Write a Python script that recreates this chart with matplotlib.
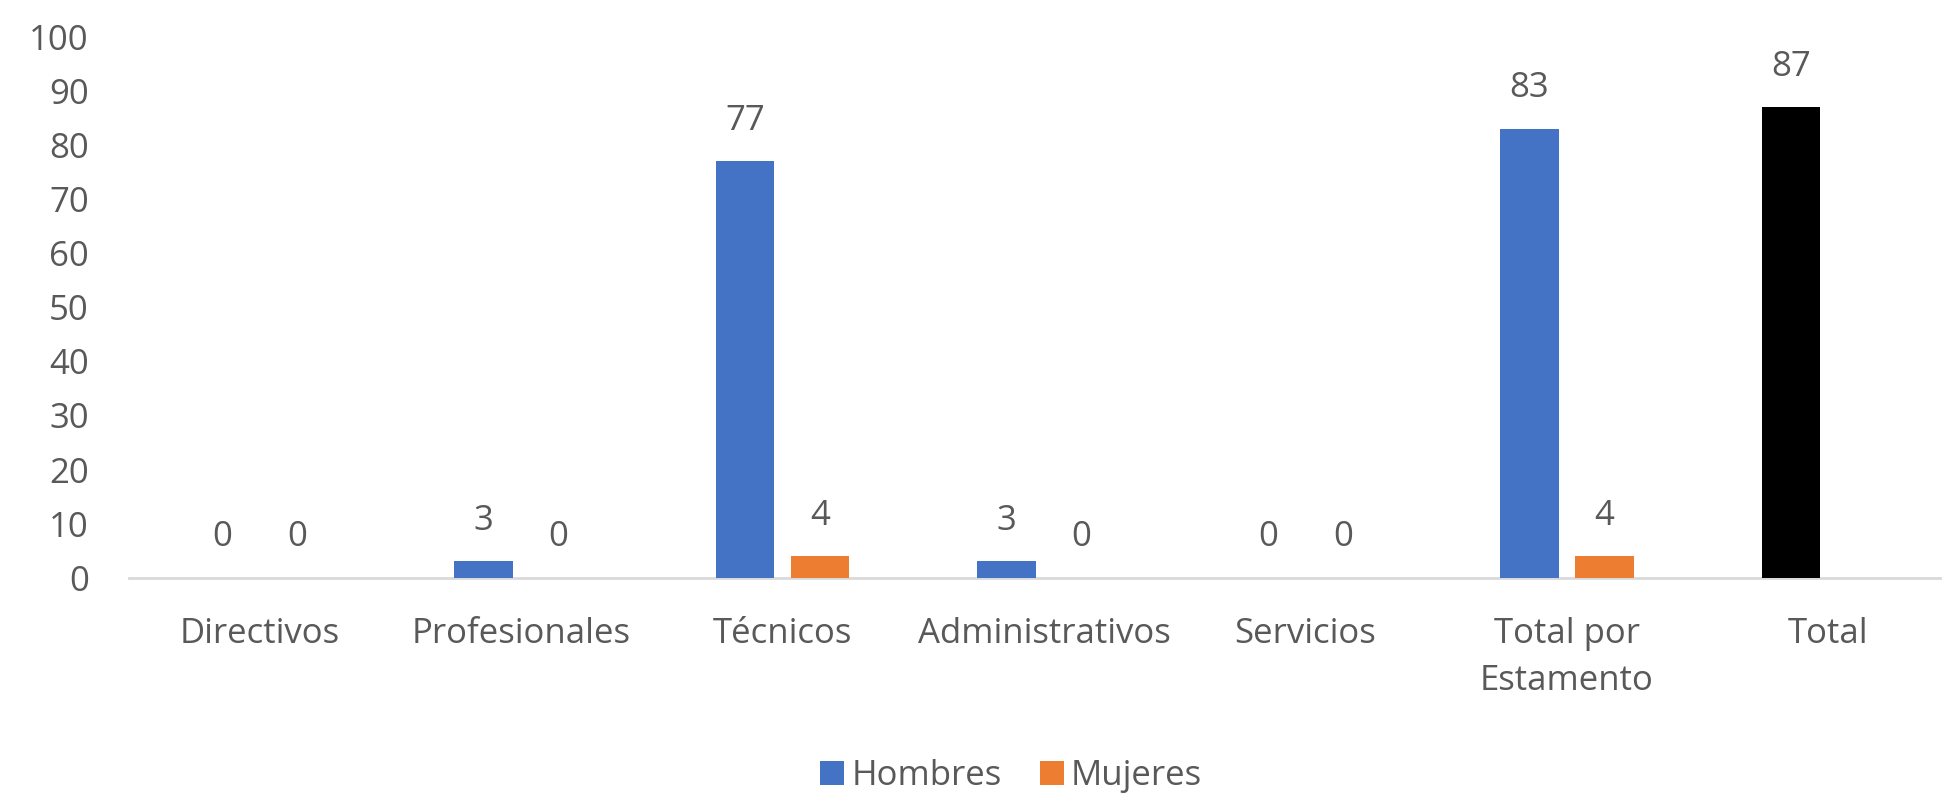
import numpy as np
import matplotlib
matplotlib.use("Agg")
import matplotlib.pyplot as plt
from matplotlib.patches import Patch

categories = ["Directivos", "Profesionales", "Técnicos", "Administrativos",
              "Servicios", "Total por\nEstamento", "Total"]
hombres = [0, 3, 77, 3, 0, 83, 87]
mujeres = [0, 0, 4, 0, 0, 4, np.nan]
series_names = ["Hombres", "Mujeres"]
y_ticks = [0, 10, 20, 30, 40, 50, 60, 70, 80, 90, 100]

BLUE = "#4472C4"
ORANGE = "#ED7D31"
BLACK = "#000000"
TEXT = "#595959"
AXIS = "#D9D9D9"

plt.rcParams["font.family"] = ["Open Sans", "DejaVu Sans"]
FS = 25

W, H = 1942, 796
fig = plt.figure(figsize=(W / 100, H / 100), dpi=100)
left_px, right_px = 128.75, 1942
zero_px, top_px = 577.7, 36.7
ax = fig.add_axes([left_px / W, (H - zero_px) / H,
                   (right_px - left_px) / W, (zero_px - top_px) / H])

cat_px = 261.5
x = np.arange(len(categories))
bw = 58.6 / cat_px
off = 37.5 / cat_px

h_colors = [BLUE] * (len(categories) - 1) + [BLACK]
bars_h = ax.bar(x - off, hombres, width=bw, color=h_colors, zorder=3)
m_vals = np.array(mujeres, dtype=float)
bars_m = ax.bar(x + off, np.nan_to_num(m_vals), width=bw, color=ORANGE, zorder=3)

lab_off = 40.5 * 72 / 100
for xi, v in zip(x - off, hombres):
    ax.annotate(f"{v:g}", (xi, v), xytext=(0, lab_off), textcoords="offset points",
                ha="center", va="center", fontsize=FS, color=TEXT)
for xi, v in zip(x + off, m_vals):
    if np.isnan(v):
        continue
    ax.annotate(f"{v:g}", (xi, v), xytext=(0, lab_off), textcoords="offset points",
                ha="center", va="center", fontsize=FS, color=TEXT)

ax.set_xlim(-0.5, (right_px - left_px) / cat_px - 0.5)
ax.set_ylim(0, 100)
ax.set_yticks(y_ticks)
ax.set_xticks(x)
ax.set_xticklabels(categories, linespacing=1.5)
ax.tick_params(axis="y", length=0, pad=40 * 72 / 100, labelsize=FS, labelcolor=TEXT)
ax.tick_params(axis="x", length=0, pad=28.5, labelsize=FS, labelcolor=TEXT)
for s in ["top", "right", "left"]:
    ax.spines[s].set_visible(False)
ax.spines["bottom"].set_color(AXIS)
ax.spines["bottom"].set_linewidth(2)
ax.set_facecolor("white")

handles = [Patch(facecolor=BLUE), Patch(facecolor=ORANGE)]
fig.legend(handles, series_names, loc="center", bbox_to_anchor=(1011 / W, 1 - 776 / H),
           ncol=2, frameon=False, fontsize=FS, labelcolor=TEXT,
           handlelength=0.7, handleheight=0.7, handletextpad=0.2, columnspacing=1.1)

fig.savefig("out.png", dpi=100, facecolor="white")
